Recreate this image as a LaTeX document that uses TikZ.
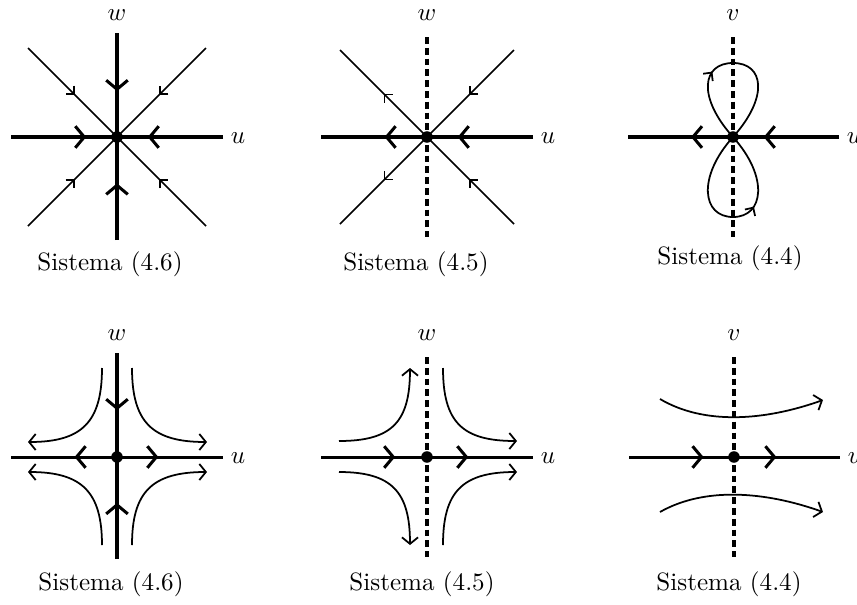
\documentclass[tikz,border=0pt]{standalone}
\usepackage{amsmath, amssymb}
\usetikzlibrary{arrows.meta, decorations.markings}

\begin{document}
\begin{tikzpicture}[x=0.014cm, y=-0.014cm,
    axis/.style={line width=1.2pt},
    dashaxis/.style={line width=1.2pt, dash pattern=on 2.7pt off 1.6pt},
    orbit/.style={line width=0.7pt},
    bigarrow/.style={postaction={decorate}, decoration={markings, mark=at position #1 with {\arrow{Straight Barb[length=3.6pt, width=8.6pt]}}}},
    smallarrow/.style={postaction={decorate}, decoration={markings, mark=at position #1 with {\arrow{Straight Barb[length=2.4pt, width=4.8pt]}}}},
    endarrow/.style={-{Straight Barb[length=2.6pt, width=6.4pt]}},
    dot/.style={circle, fill, inner sep=0pt, minimum size=4.6pt}]
    \useasboundingbox (0,0) rectangle (857,605);

    % Sistema (4.6), arriba
    \begin{scope}[shift={(117,137)}]
        \node[dot] (o1) at (0,0) {};
        \coordinate (l1) at (-106,0); \coordinate (r1) at (106,0);
        \coordinate (t1) at (0,-104); \coordinate (b1) at (0,103);
        \coordinate (nw1) at (-89,-89); \coordinate (ne1) at (89,-89);
        \coordinate (sw1) at (-89,89); \coordinate (se1) at (89,89);
        \draw[orbit, smallarrow=0.53] (nw1) -- (o1.center);
        \draw[orbit, smallarrow=0.53] (ne1) -- (o1.center);
        \draw[orbit, smallarrow=0.53] (sw1) -- (o1.center);
        \draw[orbit, smallarrow=0.53] (se1) -- (o1.center);
        \draw[axis, bigarrow=0.71] (l1) -- (o1.center);
        \draw[axis, bigarrow=0.71] (r1) -- (o1.center);
        \draw[axis, bigarrow=0.56] (t1) -- (o1.center);
        \draw[axis, bigarrow=0.55] (b1) -- (o1.center);
        \node (w1) at (0,-122) {$w$};
        \node (u1) at (121,1) {$u$};
        \node (s1) at (-7,127) {Sistema (4.6)};
    \end{scope}

    % Sistema (4.5), arriba
    \begin{scope}[shift={(427,137)}]
        \node[dot] (o2) at (0,0) {};
        \coordinate (l2) at (-106,0); \coordinate (r2) at (106,0);
        \coordinate (t2) at (0,-100); \coordinate (b2) at (0,100);
        \coordinate (nw2) at (-87,-87); \coordinate (ne2) at (87,-87);
        \coordinate (sw2) at (-87,87); \coordinate (se2) at (87,87);
        \draw[dashaxis] (t2) -- (b2);
        \draw[orbit, smallarrow=0.5] (o2.center) -- (nw2);
        \draw[orbit, smallarrow=0.52] (ne2) -- (o2.center);
        \draw[orbit, smallarrow=0.5] (o2.center) -- (sw2);
        \draw[orbit, smallarrow=0.52] (se2) -- (o2.center);
        \draw[axis, bigarrow=0.40] (o2.center) -- (l2);
        \draw[axis, bigarrow=0.71] (r2) -- (o2.center);
        \node (w2) at (0,-122) {$w$};
        \node (u2) at (121,1) {$u$};
        \node (s2) at (-11,127) {Sistema (4.5)};
    \end{scope}

    % Sistema (4.4), arriba
    \begin{scope}[shift={(733,137)}]
        \node[dot] (o3) at (0,0) {};
        \coordinate (l3) at (-105,0); \coordinate (r3) at (106,0);
        \coordinate (t3) at (0,-100); \coordinate (b3) at (0,100);
        \coordinate (top3) at (0,-74); \coordinate (bot3) at (0,80);
        \draw[dashaxis] (t3) -- (b3);
        \draw[orbit, smallarrow=0.38] (o3.center) .. controls (-36,-40) and (-31,-74) .. (top3)
            .. controls (31,-74) and (36,-40) .. (o3.center);
        \draw[orbit, smallarrow=0.62] (o3.center) .. controls (-36,40) and (-31,80) .. (bot3)
            .. controls (31,80) and (36,40) .. (o3.center);
        \draw[axis, bigarrow=0.40] (o3.center) -- (l3);
        \draw[axis, bigarrow=0.71] (r3) -- (o3.center);
        \node (v3) at (0,-122) {$v$};
        \node (u3) at (121,1) {$u$};
        \node (s3) at (-3,121) {Sistema (4.4)};
    \end{scope}

    % Sistema (4.6), abajo
    \begin{scope}[shift={(117,457)}]
        \node[dot] (o4) at (0,0) {};
        \coordinate (l4) at (-106,0); \coordinate (r4) at (106,0);
        \coordinate (t4) at (0,-104); \coordinate (b4) at (0,102);
        \draw[orbit, endarrow] (-15,-89) .. controls (-15,-35) and (-35,-15) .. (-89,-15);
        \draw[orbit, endarrow] (15,-89) .. controls (15,-35) and (35,-15) .. (90,-15);
        \draw[orbit, endarrow] (-15,88) .. controls (-15,35) and (-35,15) .. (-89,15);
        \draw[orbit, endarrow] (15,88) .. controls (15,35) and (35,15) .. (90,15);
        \draw[axis, bigarrow=0.40] (o4.center) -- (l4);
        \draw[axis, bigarrow=0.39] (o4.center) -- (r4);
        \draw[axis, bigarrow=0.55] (t4) -- (o4.center);
        \draw[axis, bigarrow=0.55] (b4) -- (o4.center);
        \node (w4) at (0,-122) {$w$};
        \node (u4) at (121,1) {$u$};
        \node (s4) at (-6,127) {Sistema (4.6)};
    \end{scope}

    % Sistema (4.5), abajo
    \begin{scope}[shift={(427,457)}]
        \node[dot] (o5) at (0,0) {};
        \coordinate (l5) at (-106,0); \coordinate (r5) at (106,0);
        \coordinate (t5) at (0,-100); \coordinate (b5) at (0,100);
        \draw[dashaxis] (t5) -- (b5);
        \draw[orbit, endarrow] (-88,-16) .. controls (-35,-16) and (-17,-35) .. (-17,-89);
        \draw[orbit, endarrow] (16,-89) .. controls (16,-35) and (35,-16) .. (90,-16);
        \draw[orbit, endarrow] (-88,15) .. controls (-35,15) and (-17,35) .. (-17,88);
        \draw[orbit, endarrow] (16,88) .. controls (16,35) and (35,15) .. (90,15);
        \draw[axis, bigarrow=0.70] (l5) -- (o5.center);
        \draw[axis, bigarrow=0.39] (o5.center) -- (r5);
        \node (w5) at (0,-122) {$w$};
        \node (u5) at (121,1) {$u$};
        \node (s5) at (-5,127) {Sistema (4.5)};
    \end{scope}

    % Sistema (4.4), abajo
    \begin{scope}[shift={(734,457)}]
        \node[dot] (o6) at (0,0) {};
        \coordinate (l6) at (-105,0); \coordinate (r6) at (106,0);
        \coordinate (t6) at (0,-100); \coordinate (b6) at (0,100);
        \draw[dashaxis] (t6) -- (b6);
        \draw[orbit, endarrow] (-74,-58) .. controls (-30,-32) and (30,-36) .. (89,-57);
        \draw[orbit, endarrow] (-74,55) .. controls (-30,30) and (30,34) .. (89,55);
        \draw[axis, bigarrow=0.71] (l6) -- (o6.center);
        \draw[axis, bigarrow=0.40] (o6.center) -- (r6);
        \node (v6) at (0,-122) {$v$};
        \node (u6) at (121,1) {$u$};
        \node (s6) at (-5,127) {Sistema (4.4)};
    \end{scope}
\end{tikzpicture}
\end{document}
